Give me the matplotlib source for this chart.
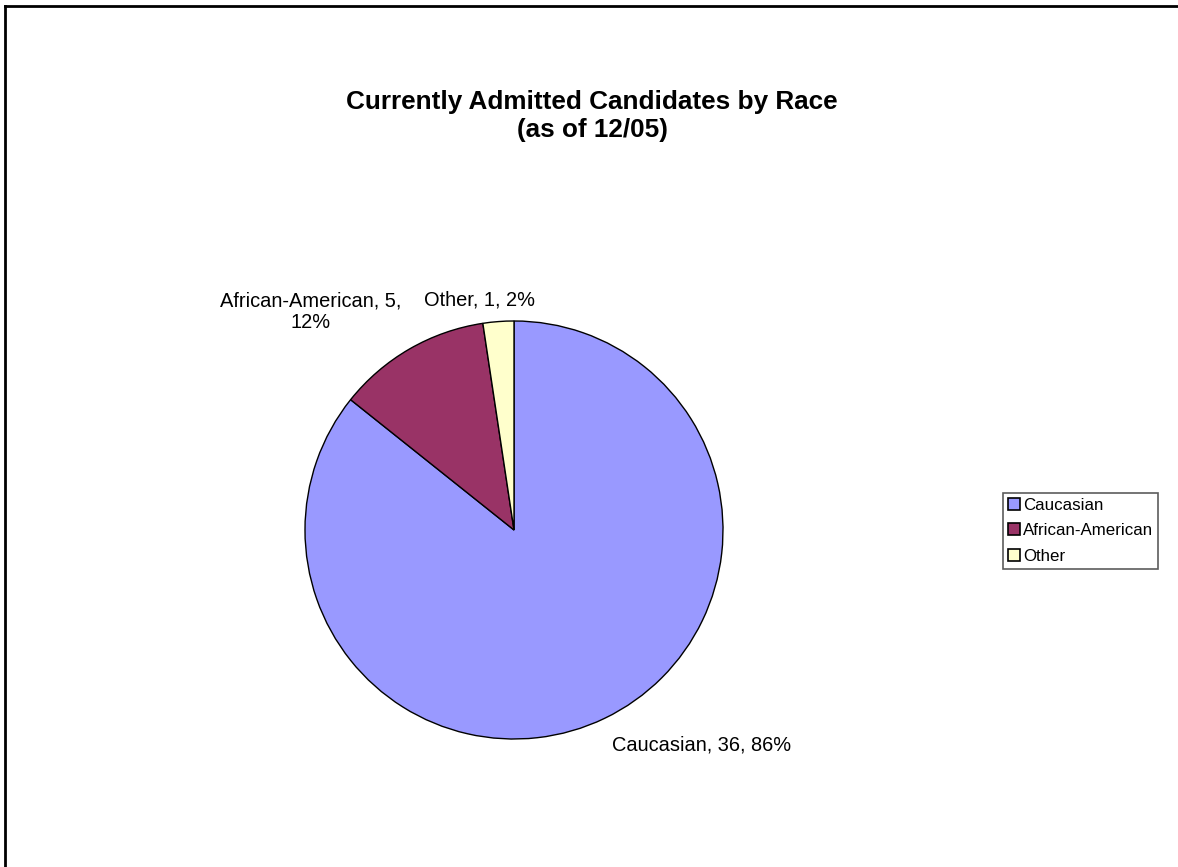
import matplotlib
matplotlib.use("Agg")
import matplotlib.pyplot as plt
from matplotlib.lines import Line2D

plt.rcParams["font.family"] = ["Liberation Sans", "DejaVu Sans"]

races = ["Caucasian", "African-American", "Other"]
counts = [36, 5, 1]
colors = ["#9999FF", "#993366", "#FFFFCC"]
title = "Currently Admitted Candidates by Race\n(as of 12/05)"

W, H = 1178, 867
fig = plt.figure(figsize=(W / 100, H / 100), dpi=100)
ax = fig.add_axes([0, 0, 1, 1])

# chart-area frame (only top and left edges fall inside the image)
ax.add_line(Line2D([5, 5], [0, H - 6], color="black", lw=2))
ax.add_line(Line2D([5, W], [H - 6, H - 6], color="black", lw=2))

cx, cy, r = 514, H - 530, 209
wedges, _ = ax.pie(counts, colors=colors, startangle=90, counterclock=False,
                   center=(cx, cy), radius=r, frame=True,
                   wedgeprops=dict(edgecolor="black", linewidth=1))
ax.set_xlim(0, W)
ax.set_ylim(0, H)
ax.set_aspect("equal")
ax.axis("off")

total = sum(counts)
labels = [f"{n}, {c}, {round(100 * c / total)}%" for n, c in zip(races, counts)]
labels[1] = labels[1].replace(", 12%", ",\n12%")
label_pos = [(612, H - 745, "left"), (311, H - 312, "center"), (479, H - 300, "center")]
for txt, (x, y, ha) in zip(labels, label_pos):
    ax.text(x, y, txt, ha=ha, va="center", fontsize=14.4, linespacing=1.15)

ax.text(592, H - 116, title, ha="center", va="center", fontsize=18.8,
        fontweight="bold", linespacing=1.22)

leg = ax.legend(wedges, races, loc="upper left",
                bbox_to_anchor=(1003 / W, 1 - 493 / H), bbox_transform=fig.transFigure,
                fontsize=12.2, frameon=True, fancybox=False, handlelength=0.7,
                handleheight=0.7, handletextpad=0.2, labelspacing=0.62,
                borderpad=0.28, borderaxespad=0)
leg.get_frame().set_edgecolor("#333333")
leg.get_frame().set_linewidth(1.2)
for h in leg.legend_handles:
    h.set_edgecolor("black")
    h.set_linewidth(1.2)

fig.savefig("out.png", dpi=100)
